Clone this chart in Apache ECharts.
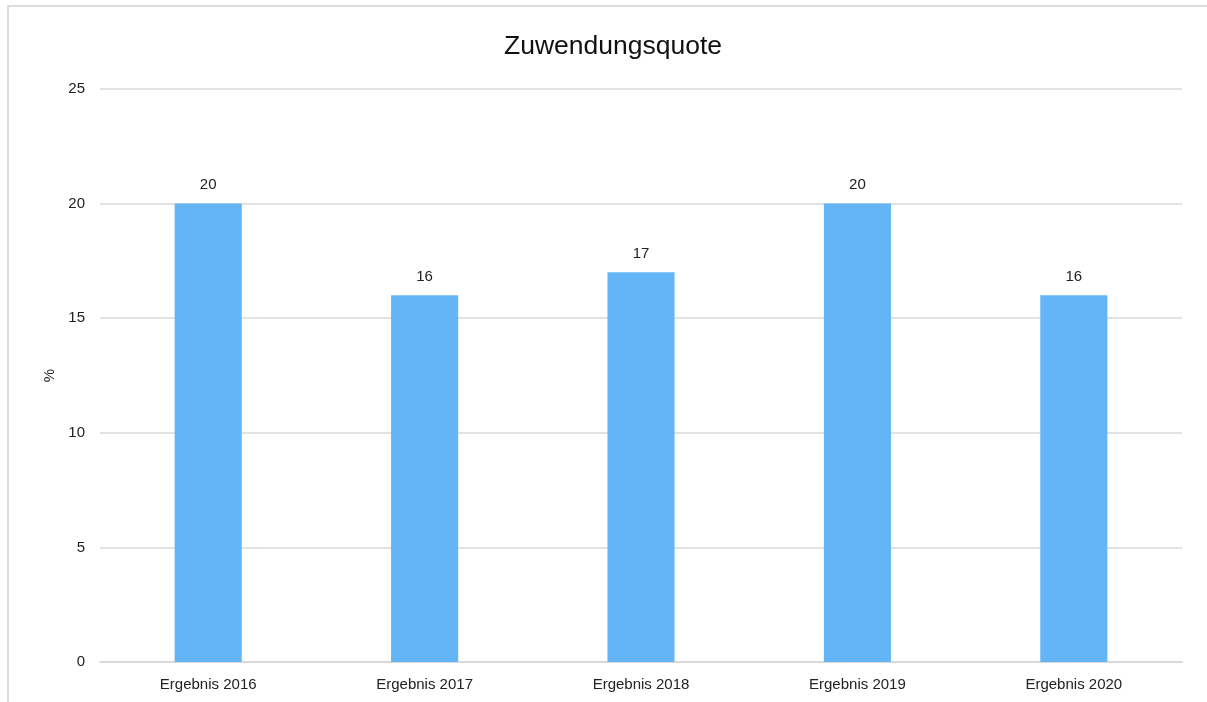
<!DOCTYPE html>
<html><head><meta charset="utf-8">
<script src="https://cdn.jsdelivr.net/npm/echarts@6/dist/echarts.min.js"></script>
<style>
html,body{margin:0;padding:0;background:#fff;overflow:hidden;}
#frame{position:absolute;left:7px;top:5px;width:1220px;height:720px;border:2px solid #dcdcdc;box-sizing:border-box;}
#c{position:absolute;left:0;top:0;width:1207px;height:702px;}
</style></head>
<body>
<div id="frame"></div>
<div id="c"></div>
<script>
const categories = ["Ergebnis 2016","Ergebnis 2017","Ergebnis 2018","Ergebnis 2019","Ergebnis 2020"];
const values = [20, 16, 17, 20, 16];
const chartTitle = "Zuwendungsquote";
const yAxisName = "%";

const chart = echarts.init(document.getElementById('c'), null, {renderer:'canvas'});
const font = "'Liberation Sans', Arial, Helvetica, sans-serif";
chart.setOption({
  animation:false,
  textStyle:{fontFamily:font},
  title:{text:chartTitle,left:608,top:28,textAlign:'center',textStyle:{fontSize:26.5,fontWeight:'normal',color:'#111',fontFamily:font}},
  grid:{left:100,right:25,top:89,bottom:40,containLabel:false},
  xAxis:{type:'category',data:categories,
    axisLine:{lineStyle:{color:'#d9d9d9',width:2}},axisTick:{show:false},
    axisLabel:{color:'#222',fontSize:15,margin:15,fontFamily:font}},
  yAxis:{type:'value',min:0,max:25,interval:5,name:yAxisName,nameLocation:'middle',nameGap:42,nameRotate:90,
    nameTextStyle:{color:'#222',fontSize:15,fontFamily:font},
    axisLine:{show:false},axisTick:{show:false},
    axisLabel:{color:'#222',fontSize:15,margin:15,fontFamily:font},
    splitLine:{lineStyle:{color:'#d9d9d9',width:1.5}}},
  series:[{type:'bar',data:values,barWidth:'31%',itemStyle:{color:'#64b5f6'},
    label:{show:true,position:'top',distance:11,color:'#222',fontSize:15,fontFamily:font}}]
});
</script>
</body></html>
